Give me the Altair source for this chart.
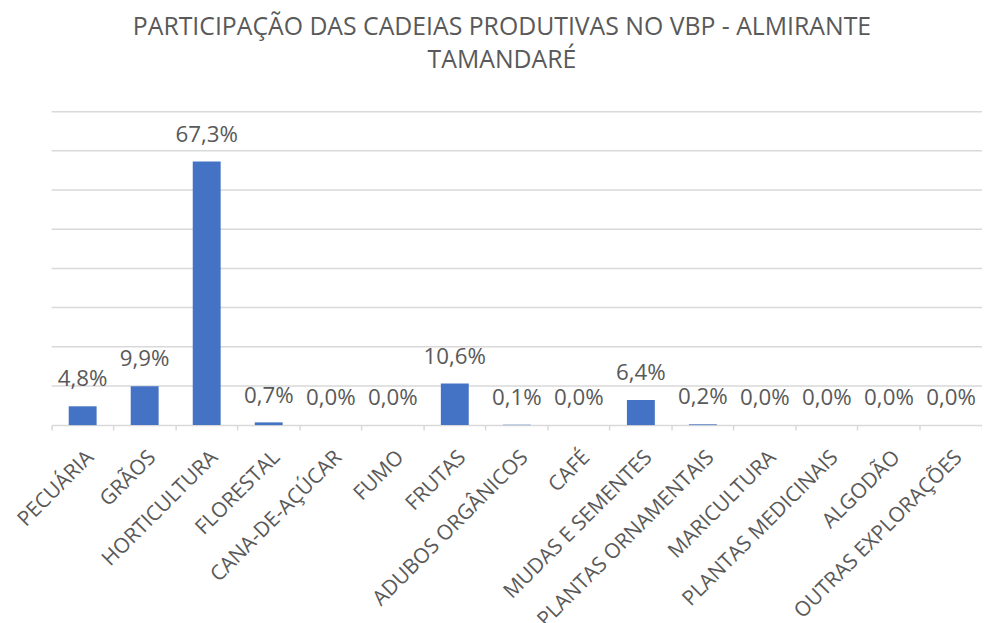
import altair as alt
import pandas as pd

categories = ["PECUÁRIA", "GRÃOS", "HORTICULTURA", "FLORESTAL", "CANA-DE-AÇÚCAR",
              "FUMO", "FRUTAS", "ADUBOS ORGÂNICOS", "CAFÉ", "MUDAS E SEMENTES",
              "PLANTAS ORNAMENTAIS", "MARICULTURA", "PLANTAS MEDICINAIS",
              "ALGODÃO", "OUTRAS EXPLORAÇÕES"]
values = [4.8, 9.9, 67.3, 0.7, 0.0, 0.0, 10.6, 0.1, 0.0, 6.4, 0.2, 0.0, 0.0, 0.0, 0.0]
title_lines = ["PARTICIPAÇÃO DAS CADEIAS PRODUTIVAS NO VBP - ALMIRANTE", "TAMANDARÉ"]
y_ticks = [10, 20, 30, 40, 50, 60, 70, 80]

df = pd.DataFrame({"cat": categories, "val": values})
df["label"] = [f"{v:.1f}%".replace(".", ",") for v in values]
grid_df = pd.DataFrame({"g": y_ticks})

GRAY = "#595959"
GRID = "#D9D9D9"

y_scale = alt.Scale(domain=[0, 80])

x_enc = alt.X("cat:N", sort=categories,
              scale=alt.Scale(paddingInner=0, paddingOuter=0),
              axis=alt.Axis(title=None, labelAngle=-45, labelAlign="right",
                            labelBaseline="middle", labelFont="Open Sans",
                            labelFontSize=21, labelColor=GRAY, labelPadding=24,
                            labelOffset=8, labelLimit=400,
                            domainColor=GRID, domainWidth=1.5,
                            tickColor=GRID, tickSize=5, tickWidth=1.5,
                            bandPosition=1, tickExtra=True))
y_enc = alt.Y("val:Q", scale=y_scale, axis=None)

grid = alt.Chart(grid_df).mark_rule(color=GRID, strokeWidth=1.5).encode(
    y=alt.Y("g:Q", scale=y_scale, axis=None),
    x=alt.value(0), x2=alt.value(938))

base = alt.Chart(df).encode(x=x_enc, y=y_enc)

bars = base.mark_bar(color="#4472C4", width=alt.RelativeBandSize(0.45))

text = base.mark_text(font="Open Sans", fontSize=22.5, color=GRAY,
                      baseline="alphabetic", dy=-20).encode(text="label:N")

chart = alt.layer(grid, bars, text).properties(
    width=938, height=316,
    autosize=alt.AutoSizeParams(type="none"),
    padding={"left": 44, "top": 102, "right": 0, "bottom": 197},
    title=alt.Title(title_lines, font="Open Sans", fontSize=25,
                    fontWeight="normal", color=GRAY, lineHeight=34,
                    anchor="middle", dx=-15, offset=38),
).configure_view(strokeWidth=0)

chart.save("out.html", embed_options={"renderer": "svg", "actions": False})
